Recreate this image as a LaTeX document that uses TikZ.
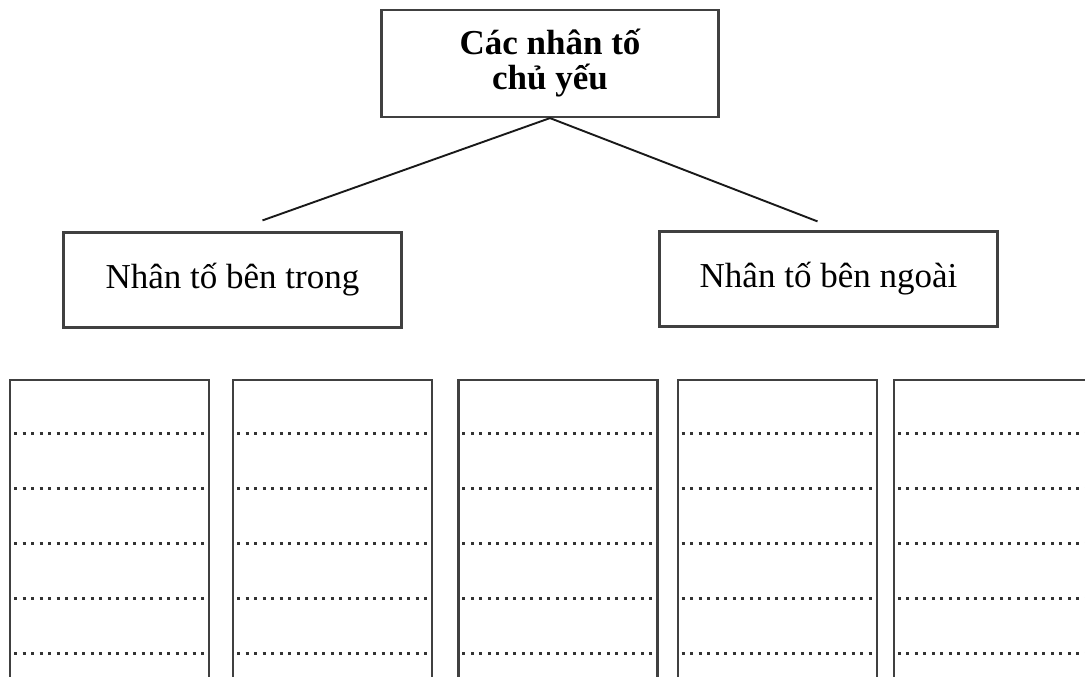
\documentclass[tikz,border=0pt]{standalone}
\usepackage{fontspec}
\setmainfont{Liberation Serif}
\usetikzlibrary{positioning,calc}

\begin{document}
\begin{tikzpicture}[
    x=1pt, y=-1pt,
    every node/.style={font=\fontsize{35}{35}\selectfont},
    top/.style={rectangle, draw=black!75, line width=2.2pt, minimum width=337pt, minimum height=107pt, align=center, font=\fontsize{35}{35}\selectfont\bfseries},
    factor/.style={rectangle, draw=black!75, line width=2.2pt, minimum width=338pt, minimum height=95pt},
    col/.style={rectangle, draw=black!75, line width=2.2pt, minimum width=199pt, minimum height=340pt, anchor=north west},
    dots/.style={line width=3pt, dash pattern=on 3pt off 5.5pt, black!80},
    link/.style={line width=1.9pt, black!90},
    ]
    \useasboundingbox (0,0) rectangle (1085,677);
    \clip (0,0) rectangle (1085,677);

    %% main factors
    \node[top] (main) at (550,63.5) {Các nhân tố\\chủ yếu};
    \node[factor] (inner) at (232.5,280) {Nhân tố bên trong};
    \node[factor] (outer) at (828.5,279) {Nhân tố bên ngoài};

    %% branches
    \coordinate (innerEnd) at ([shift={(30pt,11pt)}]inner.north);
    \coordinate (outerEnd) at ([shift={(-11pt,9pt)}]outer.north);
    \draw[link] (main.south) -- (innerEnd);
    \draw[link] (main.south) -- (outerEnd);

    %% blank columns
    \node[col] (c1) at (9,379) {};
    \node[col, right=22pt of c1.north east, anchor=north west] (c2) {};
    \node[col, right=24pt of c2.north east, anchor=north west] (c3) {};
    \node[col, right=18pt of c3.north east, anchor=north west] (c4) {};
    \node[col, right=15pt of c4.north east, anchor=north west] (c5) {};

    % dotted lines
    \foreach \c in {1,...,5}
        \foreach \y in {54,109,164,219,274}
            \draw[dots] ([shift={(5pt,-\y pt)}]c\c.north west) -- ([shift={(-1pt,-\y pt)}]c\c.north east);

\end{tikzpicture}
\end{document}
